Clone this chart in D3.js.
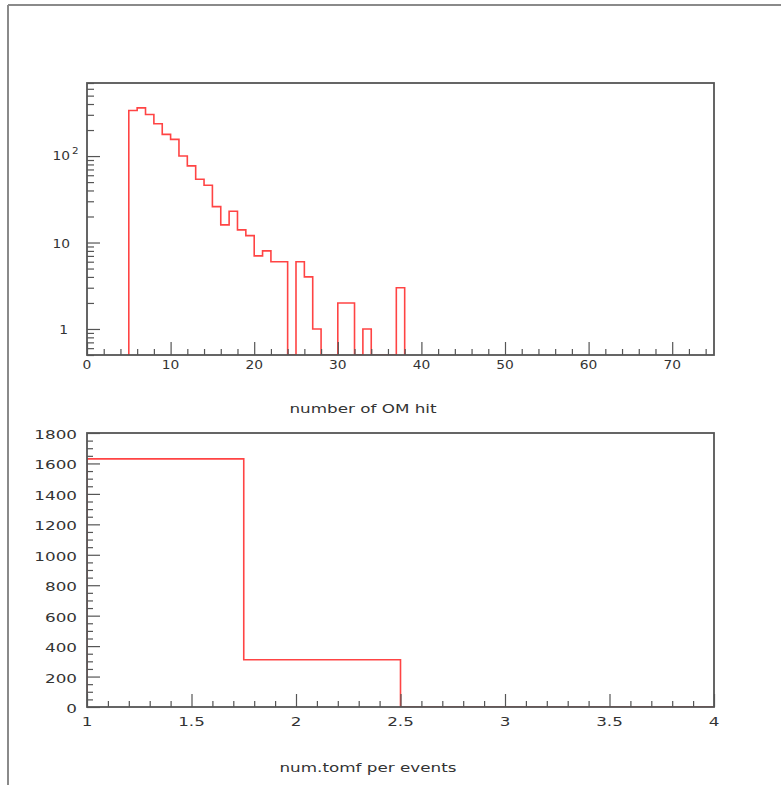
<!DOCTYPE html>
<html>
<head>
<meta charset="utf-8">
<script src="https://cdn.jsdelivr.net/npm/d3@7"></script>
<style>
  html, body { margin: 0; padding: 0; background: #fff; }
  svg { display: block; }
  text { font-family: "DejaVu Sans", sans-serif; fill: #333; }
</style>
</head>
<body>
<svg id="chart" width="781" height="785"></svg>
<script>
// ---- data ----
const hitBinStart = 5;          // lower edge of first bin
const hitBinWidth = 1;
const hitCounts = [337, 361, 303, 236, 178, 156, 100, 77, 54, 46, 26, 16, 23, 14, 12, 7, 8, 6, 6, 0, 6, 4, 1, 0, 0, 2, 2, 0, 1, 0, 0, 0, 3];
const hitXTicks = [0, 10, 20, 30, 40, 50, 60, 70];
const hitYTicks = [1, 10, 100];
const hitXTitle = "number of OM hit";

const tomfEdges = [1, 1.75, 2.5, 3.25, 4];
const tomfCounts = [1630, 310, 0, 0];
const tomfXTicks = [1, 1.5, 2, 2.5, 3, 3.5, 4];
const tomfXTickLabels = ["1", "1.5", "2", "2.5", "3", "3.5", "4"];
const tomfYTicks = [0, 200, 400, 600, 800, 1000, 1200, 1400, 1600, 1800];
const tomfXTitle = "num.tomf per events";

// ---- layout ----
const svg = d3.select("#chart");
const L = 87, R = 714;
const top1 = 83, bot1 = 355;
const top2 = 433, bot2 = 707;
const frameColor = "#555";
const histColor = "#ff4444";

// outer border
svg.append("line").attr("x1", 8).attr("x2", 781).attr("y1", 5).attr("y2", 5)
  .attr("stroke", "#8a8a8a").attr("stroke-width", 2);
svg.append("line").attr("x1", 8).attr("x2", 8).attr("y1", 5).attr("y2", 785)
  .attr("stroke", "#8a8a8a").attr("stroke-width", 2);

function label(g, x, y, txt, sx, anchor, size) {
  const t = g.append("g").attr("transform", `translate(${x},${y})`)
    .append("text").attr("transform", `scale(${sx},1)`)
    .attr("text-anchor", anchor).attr("font-size", size || 12)
    .text(txt);
  return t;
}

// ---- top panel ----
const x1 = d3.scaleLinear().domain([0, 75]).range([L, R]);
const y1 = d3.scaleLog().domain([0.5, 700]).range([bot1, top1]);

const g1 = svg.append("g");
const defs = svg.append("defs");
defs.append("clipPath").attr("id", "clip1").append("rect")
  .attr("x", L).attr("y", top1).attr("width", R - L).attr("height", bot1 - top1);
defs.append("clipPath").attr("id", "clip2").append("rect")
  .attr("x", L).attr("y", top2).attr("width", R - L).attr("height", bot2 - top2);

// histogram outline
const hitPts = [[x1(hitBinStart), bot1]];
hitCounts.forEach((c, i) => {
  const lo = hitBinStart + i * hitBinWidth, hi = lo + hitBinWidth;
  const yy = c > 0 ? y1(c) : bot1;
  hitPts.push([x1(lo), yy], [x1(hi), yy]);
});
hitPts.push([x1(hitBinStart + hitCounts.length * hitBinWidth), bot1]);
g1.append("path").attr("clip-path", "url(#clip1)")
  .attr("d", d3.line()(hitPts)).attr("fill", "none")
  .attr("stroke", histColor).attr("stroke-width", 1.6);

// ticks
const xMinor1 = d3.range(0, 76, 2).filter(v => v % 10 !== 0);
g1.append("g").attr("transform", `translate(0,${bot1})`)
  .call(d3.axisBottom(x1).tickValues(hitXTicks).tickSize(-13).tickFormat(""));
g1.append("g").attr("transform", `translate(0,${bot1})`)
  .call(d3.axisBottom(x1).tickValues(xMinor1).tickSize(-6).tickFormat(""));
const yMinor1 = [];
[0.1, 1, 10, 100].forEach(d => { for (let k = 2; k <= 9; k++) { const v = d * k; if (v >= 0.5 && v <= 700) yMinor1.push(v); } });
g1.append("g").attr("transform", `translate(${L},0)`)
  .call(d3.axisLeft(y1).tickValues(hitYTicks).tickSize(-13).tickFormat(""));
g1.append("g").attr("transform", `translate(${L},0)`)
  .call(d3.axisLeft(y1).tickValues(yMinor1).tickSize(-7).tickFormat(""));
g1.selectAll(".domain").remove();
g1.selectAll(".tick line").attr("stroke", frameColor).attr("stroke-width", 1.2);

g1.append("rect").attr("x", L).attr("y", top1).attr("width", R - L).attr("height", bot1 - top1)
  .attr("fill", "none").attr("stroke", frameColor).attr("stroke-width", 1.8);

hitXTicks.forEach(v => label(g1, x1(v), 369, String(v), 1.15, "middle", 12));
// log labels
{
  const t = label(g1, 70, y1(100) + 4, "10", 1.15, "end", 12);
  g1.append("g").attr("transform", `translate(72,${y1(100) - 2})`)
    .append("text").attr("transform", "scale(1.15,1)").attr("font-size", 9).text("2");
  label(g1, 70, y1(10) + 5, "10", 1.15, "end", 12);
  label(g1, 68, y1(1) + 5, "1", 1.15, "end", 12);
}
label(g1, 363, 413, hitXTitle, 1.4, "middle", 12);

// ---- bottom panel ----
const x2 = d3.scaleLinear().domain([1, 4]).range([L, R]);
const y2 = d3.scaleLinear().domain([0, 1800]).range([bot2, top2]);
const g2 = svg.append("g");

const tPts = [[x2(tomfEdges[0]), y2(0)]];
tomfCounts.forEach((c, i) => {
  tPts.push([x2(tomfEdges[i]), y2(c)], [x2(tomfEdges[i + 1]), y2(c)]);
});
tPts.push([x2(tomfEdges[tomfEdges.length - 1]), y2(0)]);
g2.append("path").attr("clip-path", "url(#clip2)")
  .attr("d", d3.line()(tPts)).attr("fill", "none")
  .attr("stroke", histColor).attr("stroke-width", 1.6);

const xMinor2 = d3.range(10, 41).map(v => v / 10).filter(v => Math.round(v * 10) % 5 !== 0);
g2.append("g").attr("transform", `translate(0,${bot2})`)
  .call(d3.axisBottom(x2).tickValues(tomfXTicks).tickSize(-13).tickFormat(""));
g2.append("g").attr("transform", `translate(0,${bot2})`)
  .call(d3.axisBottom(x2).tickValues(xMinor2).tickSize(-6).tickFormat(""));
const yMinor2 = d3.range(0, 1801, 50).filter(v => v % 200 !== 0);
g2.append("g").attr("transform", `translate(${L},0)`)
  .call(d3.axisLeft(y2).tickValues(tomfYTicks).tickSize(-13).tickFormat(""));
g2.append("g").attr("transform", `translate(${L},0)`)
  .call(d3.axisLeft(y2).tickValues(yMinor2).tickSize(-6).tickFormat(""));
g2.selectAll(".domain").remove();
g2.selectAll(".tick line").attr("stroke", frameColor).attr("stroke-width", 1.2);

g2.append("rect").attr("x", L).attr("y", top2).attr("width", R - L).attr("height", bot2 - top2)
  .attr("fill", "none").attr("stroke", frameColor).attr("stroke-width", 1.8);

tomfYTicks.forEach(v => label(g2, 77, y2(v) + 6, String(v), 1.4, "end", 12));
tomfXTicks.forEach((v, i) => label(g2, x2(v), 726, tomfXTickLabels[i], 1.4, "middle", 12));
label(g2, 368, 772, tomfXTitle, 1.4, "middle", 12);
</script>
</body>
</html>
